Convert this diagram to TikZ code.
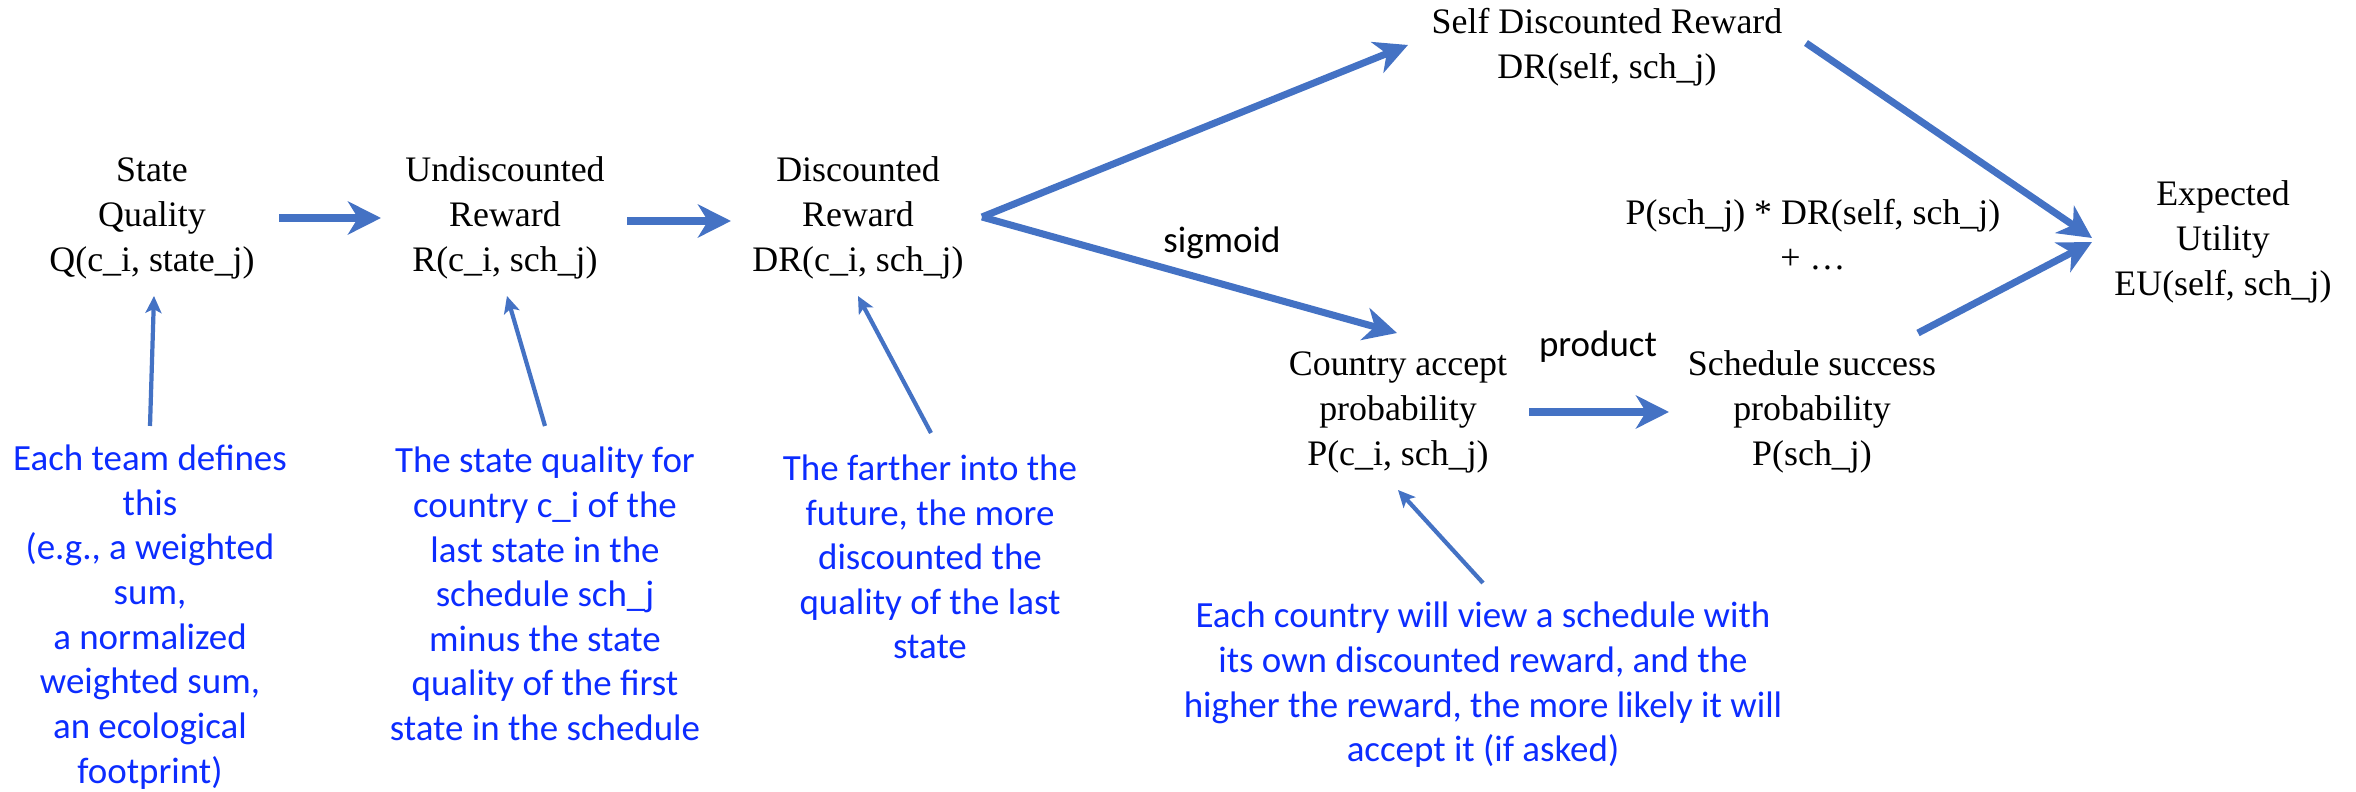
\documentclass[tikz,border=0pt]{standalone}
\usepackage{fontspec}
\setmainfont{Liberation Serif}
\newfontfamily\notefont{Carlito}
\usetikzlibrary{arrows.meta,calc}
\definecolor{arrowblue}{RGB}{68,114,196}
\definecolor{noteblue}{RGB}{12,44,255}
\tikzset{
  lab/.style={align=center, inner sep=0pt, font=\fontsize{10.2}{12.8}\selectfont},
  note/.style={align=center, inner sep=0pt, text=noteblue, font=\notefont\fontsize{10.5}{12.7}\selectfont},
  tag/.style={inner sep=0pt, font=\notefont\fontsize{10.5}{12.7}\selectfont},
  flow/.style={draw=arrowblue, line width=2pt,
    -{Stealth[length=0.33cm, width=0.33cm, inset=0.1cm]}},
  pointer/.style={draw=arrowblue, line width=1.2pt,
    -{Stealth[length=0.17cm, width=0.16cm, inset=0.04cm]}},
}
\begin{document}
\begin{tikzpicture}[x=0.01cm, y=-0.01cm]
\useasboundingbox (0,0) rectangle (2356,792);

% quantities
\node[lab] (st) at (152,218) {State\\Quality\\Q(c\_i, state\_j)};
\node[lab] (un) at (505,218) {Undiscounted\\Reward\\R(c\_i, sch\_j)};
\node[lab] (dr) at (858,218) {Discounted\\Reward\\DR(c\_i, sch\_j)};
\node[lab] (self) at (1607,47) {Self Discounted Reward\\DR(self, sch\_j)};
\node[lab] (pp) at (1813,235) {P(sch\_j) * DR(self, sch\_j)\\+ \dots};
\node[lab] (eu) at (2223,242) {Expected\\Utility\\EU(self, sch\_j)};
\node[lab] (ca) at (1398,412) {Country accept\\probability\\P(c\_i, sch\_j)};
\node[lab] (ss) at (1812,412) {Schedule success\\probability\\P(sch\_j)};

% operation tags
\node[tag] (sig) at (1222,243) {sigmoid};
\node[tag] (prod) at (1598,347) {product};

% explanations
\node[note] (n1) at (150,617) {Each team defines\\this\\(e.g., a weighted\\sum,\\a normalized\\weighted sum,\\an ecological\\footprint)};
\node[note] (n2) at (545,594) {The state quality for\\country c\_i of the\\last state in the\\schedule sch\_j\\minus the state\\quality of the first\\state in the schedule};
\node[note] (n3) at (930,557) {The farther into the\\future, the more\\discounted the\\quality of the last\\state};
\node[note] (n4) at (1483,685) {Each country will view a schedule with\\its own discounted reward, and the\\higher the reward, the more likely it will\\accept it (if asked)};

% main flow
\draw[flow] ($(st)+(127,0)$) -- ($(un)+(-124,0)$);
\draw[flow] ($(un)+(122,3)$) -- ($(dr)+(-127,3)$);
\draw[flow] ($(dr)+(124,-1)$) -- ($(self)+(-199,-2)$);
\draw[flow] ($(dr)+(124,-1)$) -- ($(ca)+(-1,-79)$);
\draw[flow] ($(ca)+(131,0)$) -- ($(ss)+(-143,0)$);
\draw[flow] ($(self)+(199,-4)$) -- ($(eu)+(-131,-4)$);
\draw[flow] ($(ss)+(106,-79)$) -- ($(eu)+(-131,0)$);

% explanation pointers
\draw[pointer] ($(n1)+(0,-191)$) -- ($(st)+(2,78)$);
\draw[pointer] ($(n2)+(0,-168)$) -- ($(un)+(2,78)$);
\draw[pointer] ($(n3)+(1,-124)$) -- ($(dr)+(0,78)$);
\draw[pointer] ($(n4)+(0,-102)$) -- ($(ca)+(0,78)$);
\end{tikzpicture}
\end{document}
